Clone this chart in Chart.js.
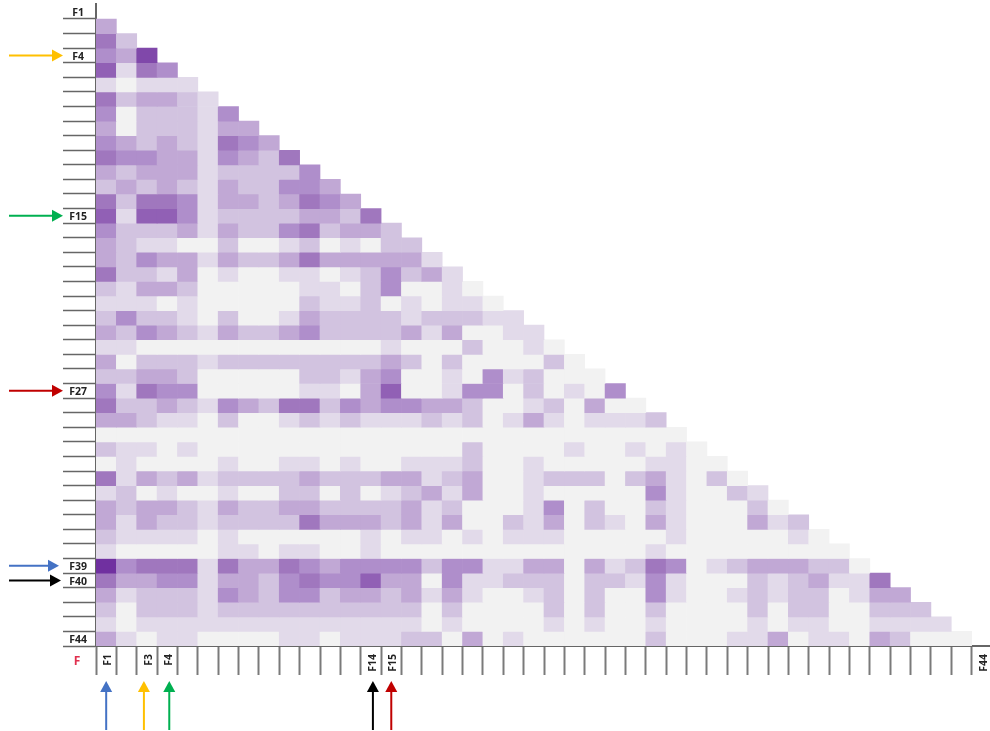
<!DOCTYPE html>
<html>
<head>
<meta charset="utf-8">
<style>
html, body { margin: 0; padding: 0; background: #fff; overflow: hidden; }
#wrap { width: 990px; height: 731px; position: relative; overflow: hidden; }
</style>
</head>
<body>
<div id="wrap"><canvas id="corr-chart" width="992" height="731"></canvas></div>
<script src="https://cdn.jsdelivr.net/npm/chart.js@4"></script>
<script>
// 44 features, lower triangle without the diagonal
const features = [];
for (let i = 1; i <= 44; i++) features.push('F' + i);
const rowTickLabels = ['F1', 'F4', 'F15', 'F27', 'F39', 'F40', 'F44'];
const colTickLabels = ['F1', 'F3', 'F4', 'F14', 'F15', 'F44'];

// shade level of each cell (0 lightest .. 8 darkest)
const rowF2 = [3];
const rowF3 = [5, 2];
const rowF4 = [4, 3, 7];
const rowF5 = [6, 1, 5, 4];
const rowF6 = [1, 0, 1, 1, 1];
const rowF7 = [5, 2, 3, 3, 2, 1];
const rowF8 = [4, 0, 2, 2, 2, 1, 4];
const rowF9 = [3, 0, 2, 2, 2, 1, 3, 3];
const rowF10 = [4, 3, 2, 3, 2, 1, 5, 4, 3];
const rowF11 = [5, 4, 4, 3, 3, 1, 4, 3, 2, 5];
const rowF12 = [3, 2, 3, 3, 3, 1, 2, 2, 2, 2, 4];
const rowF13 = [2, 3, 2, 3, 2, 1, 3, 2, 2, 4, 4, 3];
const rowF14 = [5, 2, 5, 5, 4, 1, 3, 3, 2, 3, 5, 4, 3];
const rowF15 = [6, 1, 6, 6, 4, 1, 2, 2, 2, 2, 3, 3, 2, 5];
const rowF16 = [4, 2, 2, 2, 3, 1, 3, 2, 2, 4, 5, 2, 3, 3, 2];
const rowF17 = [3, 2, 1, 1, 0, 0, 2, 0, 0, 1, 2, 0, 1, 0, 2, 2];
const rowF18 = [3, 2, 4, 3, 3, 1, 3, 2, 2, 3, 5, 3, 3, 3, 3, 3, 1];
const rowF19 = [5, 2, 2, 1, 3, 0, 1, 0, 0, 1, 1, 0, 1, 2, 4, 2, 3, 1];
const rowF20 = [2, 1, 3, 3, 2, 0, 0, 0, 0, 0, 1, 1, 0, 2, 4, 0, 0, 1, 0];
const rowF21 = [1, 1, 1, 0, 1, 0, 0, 0, 0, 0, 2, 1, 1, 2, 0, 1, 0, 1, 1, 0];
const rowF22 = [2, 4, 2, 2, 1, 0, 2, 0, 0, 1, 3, 2, 2, 2, 2, 1, 2, 2, 2, 1, 1];
const rowF23 = [3, 2, 4, 3, 2, 1, 3, 2, 2, 3, 4, 2, 2, 2, 2, 3, 1, 3, 0, 0, 1, 1];
const rowF24 = [1, 1, 0, 0, 0, 0, 0, 0, 0, 0, 0, 0, 0, 0, 1, 0, 0, 0, 2, 0, 0, 1, 0];
const rowF25 = [3, 0, 2, 2, 2, 1, 2, 2, 2, 2, 2, 2, 2, 2, 3, 2, 0, 2, 0, 0, 0, 0, 2, 0];
const rowF26 = [2, 2, 3, 3, 2, 0, 0, 0, 0, 0, 2, 2, 1, 3, 4, 0, 0, 1, 0, 4, 1, 2, 0, 0, 0];
const rowF27 = [4, 1, 5, 4, 4, 0, 0, 0, 0, 0, 1, 1, 0, 3, 6, 0, 0, 1, 4, 4, 0, 2, 0, 1, 0, 4];
const rowF28 = [5, 2, 2, 3, 2, 1, 4, 3, 2, 5, 5, 2, 4, 3, 4, 4, 3, 3, 2, 0, 0, 1, 2, 0, 3, 0, 0];
const rowF29 = [3, 3, 2, 1, 1, 0, 2, 0, 0, 1, 2, 1, 2, 1, 1, 1, 2, 1, 2, 0, 1, 3, 1, 0, 1, 1, 1, 2];
const rowF30 = [0, 0, 0, 0, 0, 0, 0, 0, 0, 0, 0, 0, 0, 0, 0, 0, 0, 0, 0, 0, 0, 0, 0, 0, 0, 0, 0, 0, 0];
const rowF31 = [2, 1, 1, 0, 1, 0, 0, 0, 0, 0, 0, 0, 0, 0, 0, 0, 0, 0, 2, 0, 0, 0, 0, 1, 0, 0, 1, 0, 1, 0];
const rowF32 = [0, 1, 0, 0, 0, 0, 1, 0, 0, 1, 1, 0, 1, 0, 0, 1, 1, 1, 2, 0, 0, 1, 0, 0, 0, 0, 0, 1, 1, 0, 0];
const rowF33 = [5, 1, 3, 2, 3, 1, 2, 2, 2, 2, 3, 2, 2, 2, 3, 3, 1, 2, 3, 0, 0, 1, 2, 2, 2, 0, 2, 3, 1, 0, 2, 0];
const rowF34 = [1, 2, 0, 1, 0, 0, 1, 0, 0, 2, 2, 0, 2, 0, 1, 2, 3, 1, 3, 0, 0, 1, 0, 0, 0, 0, 0, 4, 1, 0, 0, 2, 1];
const rowF35 = [3, 2, 3, 3, 2, 1, 3, 2, 2, 3, 3, 2, 2, 2, 2, 3, 1, 2, 0, 0, 0, 1, 4, 0, 2, 0, 0, 2, 1, 0, 0, 0, 2, 0];
const rowF36 = [3, 1, 3, 2, 2, 1, 2, 2, 2, 2, 5, 3, 3, 3, 2, 3, 1, 3, 0, 0, 2, 1, 3, 0, 2, 1, 0, 3, 1, 0, 0, 0, 3, 1, 2];
const rowF37 = [2, 1, 1, 1, 1, 0, 1, 0, 0, 0, 0, 0, 0, 1, 0, 1, 1, 0, 1, 0, 1, 1, 1, 0, 0, 0, 0, 0, 1, 0, 0, 0, 0, 0, 1, 0];
const rowF38 = [1, 0, 0, 0, 0, 0, 1, 1, 0, 1, 1, 0, 0, 1, 0, 0, 0, 0, 0, 0, 0, 0, 0, 0, 0, 0, 0, 1, 0, 0, 0, 0, 0, 0, 0, 0, 0];
const rowF39 = [8, 4, 5, 5, 5, 1, 5, 3, 3, 5, 4, 3, 4, 4, 4, 4, 2, 4, 4, 1, 1, 3, 3, 0, 3, 1, 2, 5, 4, 0, 1, 2, 3, 3, 3, 2, 2, 0];
const rowF40 = [5, 3, 3, 4, 4, 1, 3, 3, 2, 4, 5, 4, 4, 6, 3, 3, 0, 4, 1, 1, 2, 2, 2, 0, 2, 2, 1, 4, 1, 0, 0, 0, 2, 1, 2, 3, 1, 1, 5];
const rowF41 = [3, 1, 2, 2, 2, 1, 4, 3, 2, 4, 4, 2, 3, 3, 2, 3, 1, 3, 1, 0, 0, 1, 2, 0, 2, 0, 0, 4, 1, 0, 0, 1, 2, 1, 2, 2, 0, 1, 3, 3];
const rowF42 = [2, 0, 2, 2, 2, 1, 2, 2, 2, 2, 2, 2, 2, 2, 2, 2, 0, 2, 0, 0, 0, 0, 2, 0, 2, 0, 0, 2, 0, 0, 0, 0, 2, 0, 2, 2, 0, 0, 2, 2, 2];
const rowF43 = [1, 0, 1, 1, 1, 1, 1, 1, 1, 1, 1, 1, 1, 1, 1, 1, 0, 1, 0, 0, 0, 0, 1, 0, 1, 0, 0, 1, 0, 0, 0, 0, 1, 0, 1, 1, 0, 0, 1, 1, 1, 1];
const rowF44 = [3, 1, 0, 1, 1, 0, 0, 0, 0, 1, 1, 0, 1, 1, 1, 2, 2, 0, 3, 0, 1, 0, 0, 0, 0, 0, 0, 2, 0, 0, 0, 1, 1, 3, 0, 1, 1, 0, 3, 2, 0, 0, 0];
const rowValues = [[], rowF2, rowF3, rowF4, rowF5, rowF6, rowF7, rowF8, rowF9, rowF10, rowF11,
    rowF12, rowF13, rowF14, rowF15, rowF16, rowF17, rowF18, rowF19, rowF20, rowF21, rowF22,
    rowF23, rowF24, rowF25, rowF26, rowF27, rowF28, rowF29, rowF30, rowF31, rowF32, rowF33,
    rowF34, rowF35, rowF36, rowF37, rowF38, rowF39, rowF40, rowF41, rowF42, rowF43, rowF44];

const levelColors = ['#F2F2F2', '#E2DAEA', '#D2C3E0', '#C1A8D5', '#AF8ECB', '#A077BE', '#9160B5', '#8048AA', '#7030A0'];

// the arrows that point at the highlighted features
const arrowRows = ['F4', 'F15', 'F27', 'F39', 'F40'];
const arrowRowColors = ['#FFC000', '#00B050', '#C00000', '#4472C4', '#000000'];
const arrowCols = ['F1', 'F3', 'F4', 'F14', 'F15'];
const arrowColColors = ['#4472C4', '#FFC000', '#00B050', '#000000', '#C00000'];

const labelFont = { family: '"Open Sans"', size: 10.5, weight: 'bold' };

const datasets = rowValues.map(function (levels, r) {
    return {
        label: features[r],
        data: levels.map(function (v, c) {
            return { x: features[c], y: [r, r + 1] };
        }),
        backgroundColor: levels.map(function (v) {
            return levelColors[v];
        }),
        borderWidth: 0,
        barPercentage: 1,
        categoryPercentage: 1,
        grouped: false,
    };
});

function drawArrow(ctx, x1, y1, x2, y2, color) {
    // line from (x1,y1) to the tip at (x2,y2)
    let a = Math.atan2(y2 - y1, x2 - x1);
    let head = 11;
    let half = 6;
    ctx.strokeStyle = color;
    ctx.fillStyle = color;
    ctx.lineWidth = 2;
    ctx.beginPath();
    ctx.moveTo(x1, y1);
    ctx.lineTo(x2 - head * Math.cos(a), y2 - head * Math.sin(a));
    ctx.stroke();
    ctx.beginPath();
    ctx.moveTo(x2, y2);
    ctx.lineTo(x2 - head * Math.cos(a) - half * Math.sin(a), y2 - head * Math.sin(a) + half * Math.cos(a));
    ctx.lineTo(x2 - head * Math.cos(a) + half * Math.sin(a), y2 - head * Math.sin(a) - half * Math.cos(a));
    ctx.closePath();
    ctx.fill();
}

const arrowPlugin = {
    id: 'arrows',
    afterDraw: function (chart) {
        let ctx = chart.ctx;
        let xs = chart.scales.x;
        let ys = chart.scales.y;
        ctx.save();
        arrowRows.forEach(function (name, i) {
            let y = ys.getPixelForValue(features.indexOf(name) + 0.5);
            let tip = name === 'F39' ? 59 : name === 'F40' ? 61 : 63;
            drawArrow(ctx, 9, y, tip, y, arrowRowColors[i]);
        });
        arrowCols.forEach(function (name, i) {
            let x = xs.getPixelForValue(features.indexOf(name));
            // the drawn arrows sit a little off the column centres
            if (name === 'F3') x -= 3;
            if (name === 'F4' || name === 'F14') x += 2;
            drawArrow(ctx, x, 730, x, 681, arrowColColors[i]);
        });
        // axis caption in the corner
        ctx.fillStyle = '#E0304E';
        ctx.font = 'bold 12px "Open Sans"';
        ctx.textAlign = 'center';
        ctx.textBaseline = 'middle';
        ctx.fillText('F', 77, 662);
        ctx.restore();
    },
};

let corr_chart = document.getElementById('corr-chart').getContext('2d');
let corrChart = new Chart(corr_chart, {
    type: 'bar',
    data: { labels: features, datasets: datasets },
    plugins: [arrowPlugin],
    options: {
        responsive: false,
        animation: false,
        layout: { padding: { top: 4.4, right: 0, bottom: 0, left: 0 } },
        plugins: { legend: { display: false }, tooltip: { enabled: false } },
        scales: {
            x: {
                type: 'category',
                offset: true,
                afterFit: function (scale) {
                    scale.height = 85;
                },
                border: { color: '#666666', width: 2 },
                grid: {
                    offset: true,
                    drawOnChartArea: false,
                    tickLength: 29,
                    tickWidth: 2,
                    tickColor: '#7a7a7a',
                },
                ticks: {
                    autoSkip: false,
                    minRotation: 90,
                    maxRotation: 90,
                    padding: -21,
                    labelOffset: 2,
                    color: '#222',
                    font: labelFont,
                    callback: function (value) {
                        let name = this.getLabelForValue(value);
                        return colTickLabels.includes(name) ? name : '';
                    },
                },
            },
            y: {
                type: 'linear',
                reverse: true,
                min: 0,
                max: 44,
                afterFit: function (scale) {
                    scale.width = 96;
                },
                afterBuildTicks: function (scale) {
                    scale.ticks = features.concat(['end']).map(function (n, i) {
                        return { value: i };
                    });
                },
                border: { color: '#666666', width: 2 },
                grid: {
                    drawOnChartArea: false,
                    tickLength: 33,
                    tickWidth: 1.5,
                    tickColor: function (c) {
                        return c.index === 0 ? 'transparent' : '#666666';
                    },
                },
                ticks: {
                    autoSkip: false,
                    crossAlign: 'center',
                    padding: -24,
                    labelOffset: 8.5,
                    color: '#222',
                    font: labelFont,
                    callback: function (value) {
                        let name = features[value];
                        return rowTickLabels.includes(name) ? name : '';
                    },
                },
            },
        },
    },
});
</script>
</body>
</html>
